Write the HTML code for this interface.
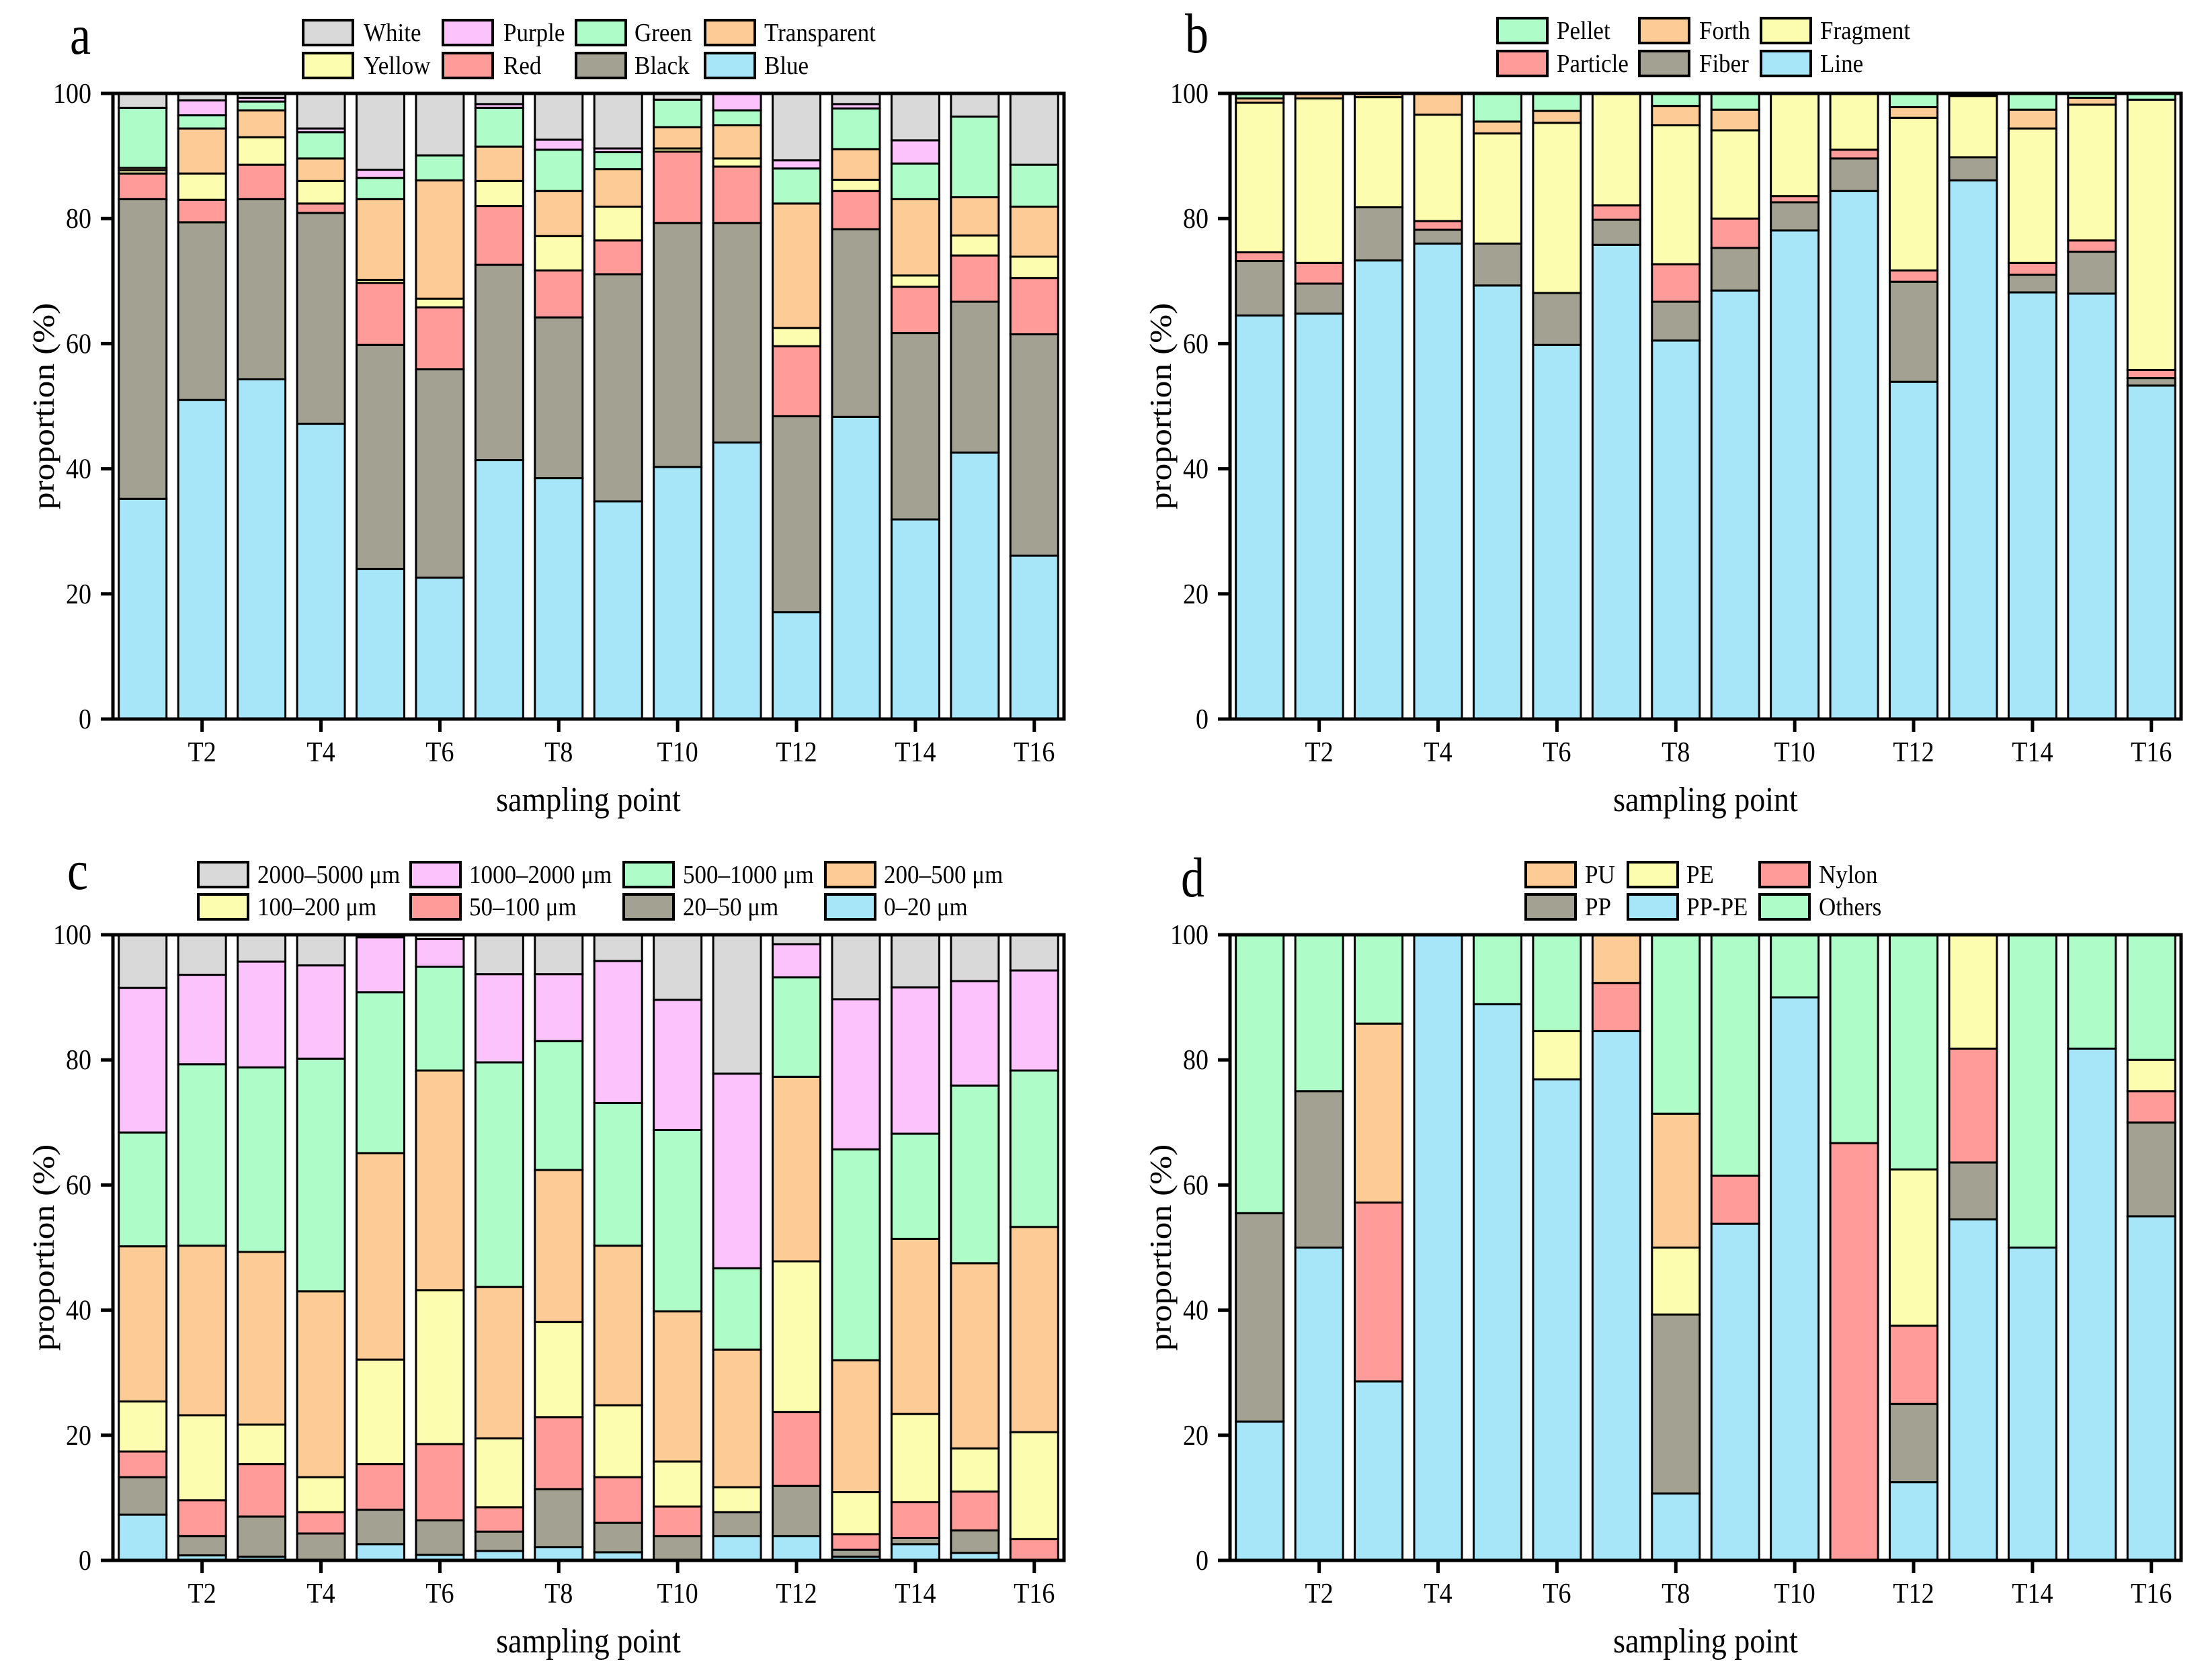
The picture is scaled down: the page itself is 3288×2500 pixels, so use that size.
<!DOCTYPE html>
<html><head><meta charset="utf-8"><style>
html,body{margin:0;padding:0;background:#fff;}
svg{display:block;}
text{font-family:"Liberation Serif","DejaVu Serif",serif;fill:#000;}
</style></head>
<body>
<svg id="fig" xmlns="http://www.w3.org/2000/svg" width="3288" height="2500" viewBox="0 0 3288 2500" font-family="'Liberation Serif', 'DejaVu Serif', serif"></svg>
<script>
// ---------- shared data ----------
const categories = ["T1","T2","T3","T4","T5","T6","T7","T8","T9","T10","T11","T12","T13","T14","T15","T16"];
const yTicks = [0,20,40,60,80,100];

// Panel a: colour (stack order bottom->top)
const aNames = ["Blue","Black","Red","Yellow","Transparent","Green","Purple","White"];
const aBlue   = [35.2,51.0,54.3,47.2,24.0,22.6,41.4,38.5,34.8,40.3,44.2,17.1,48.3,31.9,42.6,26.1];
const aBlack  = [47.9,28.4,28.8,33.7,35.8,33.3,31.2,25.7,36.3,39.0,35.1,31.3,30.0,29.8,24.1,35.4];
const aRed    = [4.1,3.6,5.5,1.5,9.9,9.9,9.4,7.5,5.4,11.4,9.0,11.2,6.1,7.4,7.4,9.0];
const aYellow = [0.5,4.2,4.4,3.6,0.5,1.4,4.0,5.5,5.4,0.5,1.3,2.9,1.8,1.8,3.2,3.4];
const aTransp = [0.4,7.2,4.3,3.6,12.9,18.9,5.5,7.2,6.0,3.4,5.3,19.9,4.9,12.2,6.1,8.0];
const aGreen  = [9.6,2.1,1.4,4.2,3.4,4.0,6.2,6.6,2.7,4.4,2.4,5.6,6.5,5.7,12.9,6.7];
const aPurple = [0,2.4,0.6,0.6,1.3,0,0.6,1.6,0.6,0,2.7,1.3,0.7,3.7,0,0];
const aWhite  = [2.3,1.1,0.7,5.6,12.2,9.9,1.7,7.4,8.8,1.0,0,10.7,1.7,7.5,3.7,11.4];

// Panel b: shape
const bNames = ["Line","Fiber","Particle","Fragment","Forth","Pellet"];
const bLine     = [64.5,64.8,73.3,76.0,69.3,59.8,75.8,60.5,68.5,78.1,84.4,53.9,86.1,68.2,68.0,53.3];
const bFiber    = [8.7,4.8,8.5,2.2,6.7,8.3,4.0,6.2,6.8,4.5,5.2,16.0,3.7,2.8,6.7,1.2];
const bParticle = [1.4,3.3,0,1.4,0,0,2.3,6.0,4.7,1.0,1.4,1.8,0,1.9,1.8,1.3];
const bFragment = [23.9,26.3,17.6,17.0,17.6,27.2,17.9,22.2,14.1,16.4,9.0,24.4,9.8,21.5,21.7,43.2];
const bForth    = [0.7,0.7,0.5,3.4,1.9,1.9,0,3.1,3.3,0,0,1.7,0.2,3.0,1.1,0];
const bPellet   = [0.8,0.1,0.1,0,4.5,2.8,0,2.0,2.6,0,0,2.2,0.2,2.6,0.7,1.0];

// Panel c: size
const cNames = ["0–20 μm","20–50 μm","50–100 μm","100–200 μm","200–500 μm","500–1000 μm","1000–2000 μm","2000–5000 μm"];
const c0020   = [7.3,0.8,0.6,0,2.6,0.9,1.5,2.1,1.3,0,3.9,3.9,0.6,2.6,1.2,0];
const c2050   = [6.0,3.1,6.4,4.3,5.5,5.5,3.1,9.3,4.7,3.9,3.8,8.0,1.1,1.0,3.6,0];
const c50100  = [4.1,5.7,8.4,3.4,7.3,12.2,3.9,11.5,7.3,4.7,0,11.8,2.5,5.7,6.2,3.4];
const c100200 = [8.0,13.6,6.3,5.6,16.7,24.6,11.0,15.2,11.5,7.2,4.0,24.1,6.7,14.1,6.9,17.1];
const c200500 = [24.8,27.1,27.6,29.7,33.0,35.1,24.2,24.3,25.5,24.0,22.0,29.5,21.1,28.0,29.6,32.8];
const c5001000= [18.2,29.0,29.5,37.2,25.7,16.6,35.9,20.6,22.8,29.0,13.0,15.9,33.7,16.8,28.4,25.0];
const c10002000=[23.1,14.3,16.9,14.9,8.8,4.4,14.1,10.7,22.7,20.8,31.1,5.3,24.0,23.4,16.7,16.0];
const c20005000=[8.5,6.4,4.3,4.9,0.4,0.7,6.3,6.3,4.2,10.4,22.2,1.5,10.3,8.4,7.4,5.7];

// Panel d: polymer
const dNames = ["PP-PE","PP","Nylon","PE","PU","Others"];
const dPPPE  = [22.2,50,28.6,100,88.9,76.9,84.6,10.7,53.8,90,0,12.5,54.5,50,81.8,55];
const dPP    = [33.3,25,0,0,0,0,0,28.6,0,0,0,12.5,9.1,0,0,15];
const dNylon = [0,0,28.6,0,0,0,7.7,0,7.7,0,66.7,12.5,18.2,0,0,5];
const dPE    = [0,0,0,0,0,7.7,0,10.7,0,0,0,25,18.2,0,0,5];
const dPU    = [0,0,28.6,0,0,0,7.7,21.4,0,0,0,0,0,0,0,0];
const dOther = [44.5,25,14.2,0,11.1,15.4,0,28.6,38.5,10,33.3,37.5,0,50,18.2,20];

// ---------- styling ----------
const COL = {blue:"#a6e6f8",gray:"#a3a192",red:"#ff9c9a",yellow:"#fdfdb0",orange:"#fdcb96",green:"#aefcc8",purple:"#fcc2fc",white:"#d9d9d9"};
const NS = "http://www.w3.org/2000/svg";
const FF = "'Liberation Serif', 'DejaVu Serif', serif";
const svg = document.getElementById("fig");

function mk(tag, attrs, parent){
  const e = document.createElementNS(NS, tag);
  for (const k in attrs) e.setAttribute(k, attrs[k]);
  (parent||svg).appendChild(e);
  return e;
}
function txt(parent, x, y, s, size, anchor, sy){
  const t = mk("text", {x:0, y:0, "font-size":size, "font-family":FF, "text-anchor":anchor||"start",
    transform:"translate("+x+","+y+") scale(1,"+(sy||1.12)+")"}, parent);
  t.textContent = s;
  return t;
}

function panel(opts){
  const g = mk("g", {});
  
  
  const L = opts.left, T = opts.top, W = 1415, H = 931, B = T + H;
  const n = categories.length, pitch = W / n, bw = 71;
  const xc = i => L + pitch * (i + 0.5);
  const ys = v => B - v / 100 * H;

  for (let i = 0; i < n; i++){
    let cum = 0;
    const bg = mk("g", {}, g);
    
    
    for (let s = 0; s < opts.series.length; s++){
      const v = opts.series[s][i];
      const y0 = ys(cum), y1 = ys(cum + v);
      const r = mk("rect", {x: xc(i) - bw/2, y: y1, width: bw, height: Math.max(0, y0 - y1),
        fill: opts.colors[s], stroke: "#000", "stroke-width": 3}, bg);
      
      
      cum += v;
    }
  }
  const fr = mk("rect", {x: L, y: T, width: W, height: H, fill: "none", stroke: "#000", "stroke-width": 5}, g);
  
  
  const ya = mk("g", {}, g);
  
  
  yTicks.forEach(v => {
    mk("line", {x1: L - 18, x2: L, y1: ys(v), y2: ys(v), stroke: "#000", "stroke-width": 5}, ya);
    const t = txt(ya, L - 32, ys(v) + 14, String(v), 38, "end");
    
    
  });
  const xa = mk("g", {}, g);
  
  
  for (let i = 1; i < n; i += 2){
    mk("line", {x1: xc(i), x2: xc(i), y1: B, y2: B + 19, stroke: "#000", "stroke-width": 5}, xa);
    const t = txt(xa, xc(i), B + 63, categories[i], 38, "middle");
    
    
  }
  const xt = txt(g, L + W/2, B + 137, "sampling point", 46, "middle");
  
  
  const yt = mk("text", {x: 0, y: 0, "font-size": 46, "font-family": FF, "text-anchor": "middle",
    transform: "translate(" + (L - 88) + "," + (T + H/2) + ") rotate(-90) scale(1.12,1)"}, g);
  yt.textContent = "proportion (%)";
  
  
  const pl = txt(g, opts.letterX, opts.letterY, opts.letter, 70, "start", 1.2);
  
  
  const lg = mk("g", {}, g);
  
  
  opts.legend.forEach(it => {
    const eg = mk("g", {}, lg);
    
    
    mk("rect", {x: it.sx, y: it.y, width: 74, height: 37, fill: it.c, stroke: "#000", "stroke-width": 4}, eg);
    txt(eg, it.tx, it.y + 31, it.t, 35, "start", 1.1);
  });
}

function leg(names, cols, sxs, txs, rowsY, layout){
  return layout.map(([s,r,c]) => ({sx: sxs[c], tx: txs[c], y: rowsY[r], c: cols[s], t: names[s]}));
}

const aCols = [COL.blue,COL.gray,COL.red,COL.yellow,COL.orange,COL.green,COL.purple,COL.white];
panel({name:"panel-a-colour", left:168, top:139, letter:"a", letterX:104, letterY:80,
  series:[aBlue,aBlack,aRed,aYellow,aTransp,aGreen,aPurple,aWhite], names:aNames, colors:aCols,
  legend: leg(aNames, aCols, [451,659,857,1049], [541,749,944,1137], [30,79],
    [[7,0,0],[6,0,1],[5,0,2],[4,0,3],[3,1,0],[2,1,1],[1,1,2],[0,1,3]])});

const bCols = [COL.blue,COL.gray,COL.red,COL.yellow,COL.orange,COL.green];
panel({name:"panel-b-shape", left:1830, top:139, letter:"b", letterX:1763, letterY:78,
  series:[bLine,bFiber,bParticle,bFragment,bForth,bPellet], names:bNames, colors:bCols,
  legend: leg(bNames, bCols, [2228,2439,2620], [2316,2528,2708], [27,76],
    [[5,0,0],[4,0,1],[3,0,2],[2,1,0],[1,1,1],[0,1,2]])});

const cCols = [COL.blue,COL.gray,COL.red,COL.yellow,COL.orange,COL.green,COL.purple,COL.white];
panel({name:"panel-c-size", left:168, top:1391, letter:"c", letterX:100, letterY:1323,
  series:[c0020,c2050,c50100,c100200,c200500,c5001000,c10002000,c20005000], names:cNames, colors:cCols,
  legend: leg(cNames, cCols, [295,611,928,1228], [383,698,1016,1315], [1283,1331],
    [[7,0,0],[6,0,1],[5,0,2],[4,0,3],[3,1,0],[2,1,1],[1,1,2],[0,1,3]])});

const dCols = [COL.blue,COL.gray,COL.red,COL.yellow,COL.orange,COL.green];
panel({name:"panel-d-polymer", left:1830, top:1391, letter:"d", letterX:1757, letterY:1334,
  series:[dPPPE,dPP,dNylon,dPE,dPU,dOther], names:dNames, colors:dCols,
  legend: leg(dNames, dCols, [2270,2422,2618], [2358,2509,2706], [1283,1331],
    [[4,0,0],[3,0,1],[2,0,2],[1,1,0],[0,1,1],[5,1,2]])});
</script>
</body></html>
